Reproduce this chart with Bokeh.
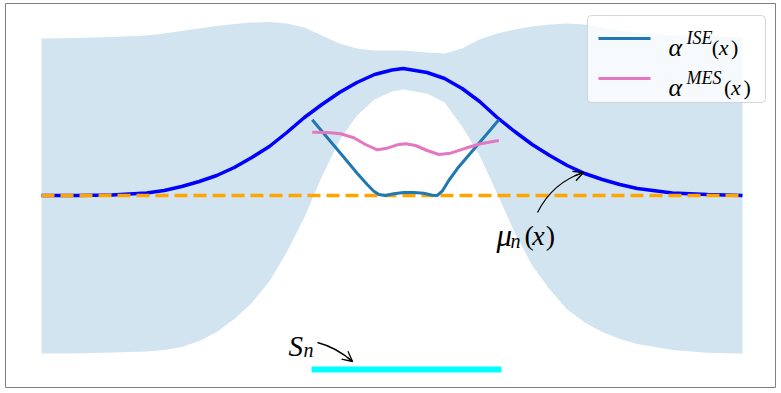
from bokeh.plotting import figure
from bokeh.models import ColumnDataSource, BoxAnnotation, Arrow, OpenHead, Range1d
from bokeh.core.properties import value
from bokeh.embed import file_html
from bokeh.resources import INLINE

# ---- data ----
x_grid = [0, 0.5, 1.0, 1.5, 1.75, 2.0, 2.25, 2.5, 2.75, 3.0, 3.25, 3.5, 3.75, 4.0,
          4.25, 4.5, 4.75, 5.0, 5.16, 5.5, 5.75, 6.0, 6.25, 6.5, 6.75, 7.0, 7.25,
          7.5, 7.75, 8.0, 8.25, 8.5, 9.0, 9.5, 10]
mean = [0.0, 0.0, 0.005, 0.025, 0.05, 0.09, 0.14, 0.20, 0.28, 0.38, 0.49, 0.63,
        0.78, 0.91, 1.03, 1.13, 1.21, 1.255, 1.27, 1.23, 1.17, 1.07, 0.94, 0.78,
        0.64, 0.51, 0.40, 0.30, 0.22, 0.16, 0.11, 0.07, 0.025, 0.01, 0.0]
band_upper = [1.57, 1.575, 1.585, 1.60, 1.62, 1.645, 1.67, 1.695, 1.715, 1.73,
              1.735, 1.72, 1.68, 1.60, 1.52, 1.47, 1.45, 1.45, 1.45, 1.43, 1.42,
              1.47, 1.56, 1.62, 1.66, 1.69, 1.71, 1.72, 1.71, 1.68, 1.65, 1.63,
              1.60, 1.595, 1.58]
band_lower = [-1.58, -1.58, -1.57, -1.56, -1.545, -1.515, -1.455, -1.365, -1.235,
              -1.075, -0.86, -0.565, -0.22, 0.19, 0.55, 0.80, 0.96, 1.04, 1.06, 1.02,
              0.93, 0.69, 0.40, 0.02, -0.37, -0.70, -0.94, -1.14, -1.27, -1.365,
              -1.435, -1.485, -1.545, -1.572, -1.58]
prior_x = [0, 10]
prior_level = [0.0, 0.0]

ise_x = [3.862, 4.027, 4.265, 4.503, 4.646, 4.741, 4.813, 4.907, 5.025, 5.168,
         5.311, 5.454, 5.573, 5.644, 5.716, 5.810, 5.930, 6.167, 6.405, 6.524]
ise_y = [0.757, 0.62, 0.423, 0.223, 0.11, 0.043, 0.01, 0.0, 0.017, 0.03,
         0.03, 0.023, 0.003, 0.0, 0.043, 0.15, 0.267, 0.463, 0.657, 0.757]
mes_x = [3.862, 4.076, 4.265, 4.455, 4.622, 4.789, 4.932, 5.074, 5.193, 5.335,
         5.502, 5.668, 5.835, 6.024, 6.262, 6.524]
mes_y = [0.633, 0.63, 0.617, 0.577, 0.51, 0.457, 0.473, 0.507, 0.517, 0.50,
         0.45, 0.41, 0.423, 0.467, 0.517, 0.55]

sn_x = [3.852, 6.562]
sn_y = [-1.74, -1.74]

legend_labels = ["ISE", "MES"]
legend_colors = ["#1f77b4", "#e377c2"]

# ---- figure ----
p = figure(width=776, height=388, output_backend="svg", toolbar_location=None,
           x_range=Range1d(-0.5136, 10.4708), y_range=Range1d(-1.92, 1.92),
           x_axis_location=None, y_axis_location=None,
           min_border_left=5, min_border_right=1, min_border_top=3, min_border_bottom=1)
p.outline_line_color = "#7f7f7f"
p.outline_line_width = 1
p.background_fill_color = "white"
p.border_fill_color = "white"
p.grid.visible = False

p.varea(x=x_grid, y1=band_lower, y2=band_upper, fill_color="#1f77b4", fill_alpha=0.2)
p.line(x_grid, mean, line_color="#0000ff", line_width=3.5)
p.line(prior_x, prior_level, line_color="#ffa500", line_width=3.5, line_dash="13 6")
p.line(ise_x, ise_y, line_color=legend_colors[0], line_width=3)
p.line(mes_x, mes_y, line_color=legend_colors[1], line_width=3)
p.line(sn_x, sn_y, line_color="#00ffff", line_width=6)

# annotations: mu_n(x) and S_n with curved arrows
p.quadratic(x0=[7.076, 3.937], y0=[-0.17, -1.47], x1=[7.732, 4.437], y1=[0.23, -1.66],
            cx=[7.290, 4.208], cy=[0.13, -1.52], line_color="black", line_width=1.3)
p.add_layout(Arrow(end=OpenHead(size=10, line_width=1.3, line_color="black"),
                   x_start=7.604, y_start=0.1955, x_end=7.732, y_end=0.23,
                   line_width=1.3, line_color="black"))
p.add_layout(Arrow(end=OpenHead(size=10, line_width=1.3, line_color="black"),
                   x_start=4.367, y_start=-1.62, x_end=4.437, y_end=-1.66,
                   line_width=1.3, line_color="black"))

ann = ColumnDataSource(dict(
    x=[6.49, 6.69, 6.890, 7.000, 7.195, 3.524, 3.737],
    y=[-0.40, -0.45, -0.40, -0.40, -0.40, -1.50, -1.54],
    text=["\u03bc", "n", "(", "x", ")", "S", "n"],
    fsize=["31px", "20px", "28px", "28px", "28px", "29px", "20px"],
    fstyle=["italic", "italic", "normal", "italic", "normal", "italic", "italic"],
))
p.text(x="x", y="y", text="text", source=ann, text_font=value("Liberation Serif"),
       text_font_size="fsize", text_font_style="fstyle", text_baseline="alphabetic",
       text_align="left", text_color="black")

# legend
p.add_layout(BoxAnnotation(left=7.788, right=10.328, bottom=0.93, top=1.80,
                           fill_color="white", fill_alpha=0.8, line_color="#cccccc",
                           line_alpha=0.8, line_width=1, border_radius=4))
p.segment(x0=[7.946, 7.946], y0=[1.57, 1.17], x1=[8.688, 8.688], y1=[1.57, 1.17],
          line_color=legend_colors, line_width=3, level="overlay")
leg = ColumnDataSource(dict(
    x=[8.945, 9.201, 9.56, 9.66, 9.835, 8.945, 9.201, 9.735, 9.835, 10.015],
    y=[1.48, 1.58, 1.48, 1.48, 1.48, 1.08, 1.18, 1.08, 1.08, 1.08],
    text=["\u03b1", legend_labels[0], "(", "x", ")",
          "\u03b1", legend_labels[1], "(", "x", ")"],
    fsize=["26px", "18px", "22px", "22px", "22px"] * 2,
    fstyle=["italic", "italic", "normal", "italic", "normal"] * 2,
))
p.text(x="x", y="y", text="text", source=leg, text_font=value("Liberation Serif"),
       text_font_size="fsize", text_font_style="fstyle", text_baseline="alphabetic",
       text_align="left", text_color="black", level="overlay")

open("out.html", "w").write(file_html(p, INLINE))
